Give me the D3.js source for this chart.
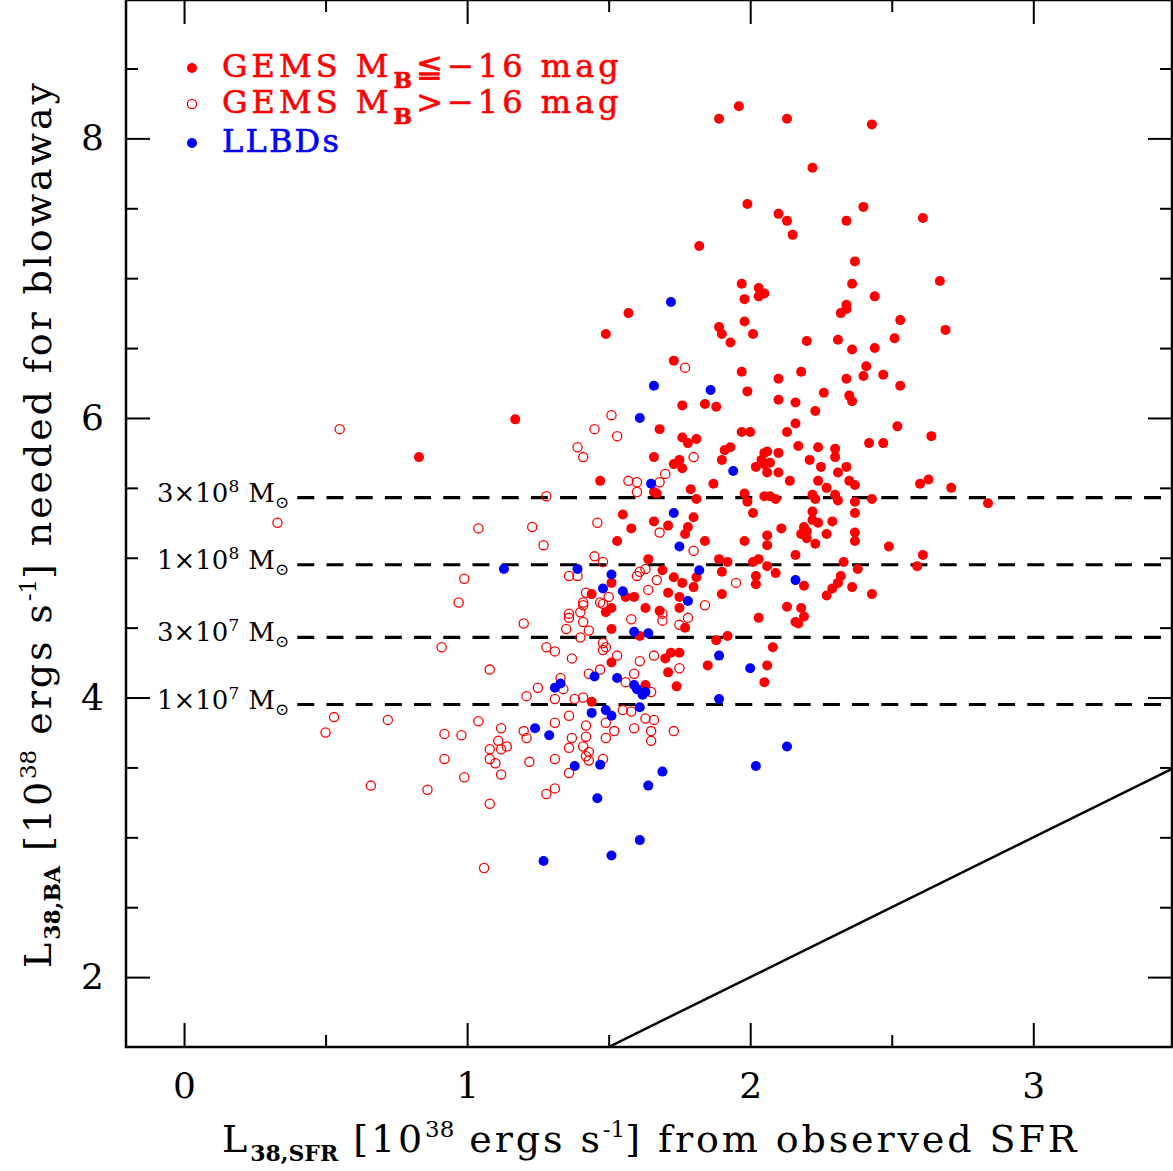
<!DOCTYPE html>
<html>
<head>
<meta charset="utf-8">
<script src="https://cdn.jsdelivr.net/npm/d3@7"></script>
<style>
  body { margin: 0; background: #fff; }
  svg { display: block; }
  text { font-family: "DejaVu Serif", serif; }
</style>
</head>
<body>
<svg id="chart" width="1173" height="1171"></svg>
<script>
// GEMS galaxies with M_B <= -16 mag (filled red)
const gemsBright = [
  [1.89,8.14],[1.96,8.23],[2.13,8.14],[2.43,8.10],[2.22,7.79],[1.99,7.53],[2.10,7.46],[2.13,7.41],
  [2.15,7.31],[2.40,7.51],[2.34,7.41],[2.61,7.43],[1.82,7.23],[2.37,7.12],[1.97,6.96],[2.03,6.93],
  [2.05,6.89],[2.03,6.87],[1.98,6.85],[2.36,6.96],[2.67,6.98],[2.44,6.87],[2.34,6.81],[2.34,6.78],
  [2.32,6.75],[2.53,6.70],[2.69,6.63],[1.57,6.75],[1.49,6.60],[1.89,6.65],[1.90,6.60],[1.98,6.69],
  [2.01,6.60],[1.93,6.54],[2.20,6.55],[2.31,6.56],[2.36,6.49],[2.44,6.50],[2.51,6.57],[1.73,6.41],
  [1.97,6.33],[2.10,6.28],[1.99,6.19],[2.10,6.13],[1.76,6.09],[1.84,6.10],[1.88,6.08],[1.68,5.92],
  [1.97,5.90],[2.00,5.90],[2.13,5.90],[1.76,5.86],[1.81,5.85],[1.78,5.82],[1.93,5.79],[1.91,5.77],
  [1.66,5.72],[1.75,5.70],[1.73,5.67],[1.90,5.70],[2.05,5.75],[2.06,5.76],[2.04,5.70],[2.07,5.68],
  [2.05,5.67],[2.02,5.65],[2.10,5.75],[1.76,5.64],[2.06,5.61],[2.10,5.61],[1.47,5.55],[1.66,5.47],
  [1.67,5.46],[1.87,5.53],[1.79,5.49],[1.81,5.42],[1.98,5.46],[1.99,5.40],[2.01,5.32],[2.05,5.44],
  [2.07,5.44],[2.09,5.42],[2.14,5.55],[1.55,5.31],[1.58,5.21],[1.66,5.26],[1.71,5.23],[1.80,5.29],
  [1.78,5.22],[1.77,5.17],[2.11,5.21],[2.06,5.16],[2.06,5.09],[1.53,5.12],[1.84,5.12],[1.98,5.12],
  [2.41,6.37],[2.40,6.30],[2.47,6.31],[2.18,6.33],[2.34,6.28],[2.53,6.23],[2.26,6.18],[2.35,6.16],
  [2.36,6.12],[2.16,6.11],[2.23,6.05],[2.16,5.96],[2.52,5.94],[2.64,5.87],[2.42,5.82],[2.47,5.82],
  [2.17,5.80],[2.24,5.79],[2.30,5.78],[2.30,5.72],[2.21,5.70],[2.25,5.65],[2.34,5.65],[2.31,5.61],
  [2.24,5.55],[2.27,5.50],[2.35,5.55],[2.37,5.52],[2.60,5.53],[2.63,5.56],[2.71,5.50],[2.22,5.45],
  [2.23,5.42],[2.30,5.45],[2.31,5.41],[2.43,5.42],[2.37,5.40],[2.37,5.32],[2.84,5.39],[2.22,5.33],
  [2.22,5.27],[2.24,5.25],[2.29,5.26],[2.19,5.22],[2.20,5.19],[2.18,5.17],[2.20,5.14],[2.27,5.17],
  [2.37,5.18],[2.37,5.12],[2.23,5.10],[2.49,5.08],[0.83,5.72],[1.17,5.99],
  [1.64,4.99],[1.89,4.99],[1.69,4.91],[1.73,4.86],[1.76,4.82],[1.80,4.79],[1.81,4.86],[1.90,4.90],
  [1.90,4.74],[1.51,4.82],[1.44,4.74],[1.56,4.72],[1.59,4.72],[1.71,4.75],[1.75,4.72],[1.75,4.64],
  [1.63,4.64],[1.51,4.64],[1.49,4.61],[1.68,4.62],[1.77,4.50],[1.51,4.49],[1.61,4.44],[1.88,4.41],
  [1.92,4.44],[1.72,4.32],[1.70,4.28],[1.75,4.32],[1.51,4.25],[1.85,4.23],[1.71,4.18],[1.63,4.09],
  [1.74,4.08],[1.44,3.97],
  [1.92,4.97],[2.01,4.97],[2.03,4.99],[2.06,4.94],[2.16,5.02],[2.33,4.97],[2.38,4.92],[2.02,4.87],
  [2.02,4.81],[2.09,4.89],[2.19,4.80],[2.32,4.87],[2.31,4.82],[2.29,4.78],[2.27,4.73],[2.36,4.79],
  [2.43,4.74],[2.13,4.65],[2.18,4.64],[2.19,4.58],[2.16,4.54],[2.17,4.53],[2.03,4.57],[2.59,4.94],
  [2.61,5.02],[2.08,4.36],[2.06,4.23],[2.05,4.11]
];

// GEMS galaxies with M_B > -16 mag (open red)
const gemsFaint = [
  [0.33,5.25],[0.55,5.92],[1.45,5.92],[1.39,5.79],[1.41,5.72],[1.28,5.44],[1.04,5.21],[1.23,5.22],
  [1.27,5.09],[1.46,5.25],[1.77,6.36],[1.51,6.02],[1.53,5.87],[1.80,5.72],[1.70,5.60],[1.57,5.55],
  [1.60,5.54],[1.60,5.47],[1.68,5.54],[1.68,5.18],[1.80,5.05],[0.99,4.85],[0.97,4.68],[1.20,4.53],
  [0.91,4.36],[1.28,4.36],[1.31,4.33],[1.08,4.20],[1.25,4.07],[1.21,4.01],[1.31,3.99],[0.53,3.86],
  [0.72,3.84],[1.04,3.83],
  [1.45,5.01],[1.48,4.97],[1.36,4.87],[1.39,4.87],[1.61,4.90],[1.60,4.87],[1.63,4.92],[1.67,4.84],
  [1.50,4.72],[1.42,4.75],[1.64,4.77],[1.41,4.68],[1.41,4.66],[1.47,4.68],[1.48,4.67],[1.40,4.61],
  [1.36,4.60],[1.36,4.57],[1.41,4.54],[1.43,4.48],[1.35,4.49],[1.40,4.43],[1.58,4.56],[1.69,4.60],
  [1.69,4.55],[1.78,4.57],[1.75,4.52],[1.84,4.66],[1.48,4.39],[1.49,4.36],[1.48,4.34],[1.37,4.28],
  [1.53,4.30],[1.61,4.26],[1.66,4.30],[1.75,4.21],[1.47,4.20],[1.43,4.17],[1.59,4.17],[1.56,4.11],
  [1.33,4.14],[1.34,4.06],[1.65,4.04],[1.38,3.99],[1.41,4.00],[1.36,3.87],[1.55,3.91],[1.58,3.90],
  [1.95,4.82],
  [0.50,3.75],[0.92,3.74],[0.98,3.73],[1.12,3.78],[1.20,3.76],[1.21,3.71],[1.11,3.69],[1.08,3.63],
  [1.12,3.63],[1.14,3.65],[1.08,3.56],[1.10,3.53],[0.92,3.56],[1.22,3.54],[0.99,3.43],[1.12,3.45],
  [0.66,3.37],[0.86,3.34],[1.08,3.24],[1.06,2.78],[1.28,3.31],[1.31,3.35],[1.31,3.56],[1.36,3.46],
  [1.36,3.64],[1.37,3.71],[1.41,3.65],[1.43,3.61],[1.42,3.58],[1.43,3.55],[1.42,3.72],[1.42,3.80],
  [1.31,3.82],[1.49,3.71],[1.49,3.82],[1.52,3.76],[1.48,3.56],[1.59,3.78],[1.63,3.85],[1.66,3.84],
  [1.65,3.76],[1.65,3.69],[1.73,3.76]
];

// LLBDs (filled blue)
const llbds = [
  [1.72,6.83],[1.66,6.23],[1.86,6.20],[1.61,6.00],[1.94,5.62],[1.65,5.53],[1.73,5.32],[1.75,5.08],
  [1.13,4.92],[1.39,4.92],[1.51,4.88],[1.48,4.78],[1.55,4.76],[1.78,4.69],[1.82,4.91],[2.16,4.84],
  [1.59,4.47],[1.64,4.46],[1.89,4.30],[2.00,4.21],[1.33,4.10],[1.31,4.07],[1.45,4.15],[1.53,4.14],
  [1.59,4.09],[1.60,4.06],[1.62,4.02],[1.63,4.04],[1.89,3.99],[1.44,3.89],[1.49,3.91],[1.51,3.87],
  [1.61,3.93],[1.24,3.78],[1.29,3.73],[1.38,3.51],[1.47,3.52],[1.69,3.47],[1.64,3.37],[1.46,3.28],
  [2.02,3.51],[2.13,3.65],[1.61,2.98],[1.51,2.87],[1.27,2.83]
];

// gas-mass levels (dashed lines)
const massLevels = [5.43, 4.95, 4.43, 3.95];
const massMantissa = ["3", "1", "3", "1"];
const massExponent = ["8", "8", "7", "7"];
const massLineStart = 0.4;

const xMajor = [0, 1, 2, 3];
const xMinor = [0.5, 1.5, 2.5];
const yMajor = [2, 4, 6, 8];
const yMinor = [2.5, 3, 3.5, 4.5, 5, 5.5, 6.5, 7, 7.5, 8.5];

const svg = d3.select("#chart");
const plotLeft = 126, plotRight = 1172, plotTop = 0, plotBottom = 1047;

const x = d3.scaleLinear().domain([-0.205, 3.49]).range([plotLeft, plotRight]);
const y = d3.scaleLinear().domain([1.5, 8.99]).range([plotBottom, plotTop]);

svg.append("defs").append("clipPath").attr("id", "plot")
  .append("rect").attr("x", plotLeft).attr("y", plotTop)
  .attr("width", plotRight - plotLeft).attr("height", plotBottom - plotTop);

// axes: major + minor ticks on all four sides, pointing inward
function styleAxis(g) {
  g.select(".domain").remove();
  g.selectAll(".tick line").attr("stroke", "#000").attr("stroke-width", 2);
  g.selectAll(".tick text")
    .attr("font-size", 36)
    .attr("fill", "#000");
}

svg.append("g").attr("transform", `translate(0,${plotBottom})`)
  .call(d3.axisBottom(x).tickValues(xMajor).tickSizeInner(-24).tickSizeOuter(0)
    .tickPadding(25).tickFormat(d3.format("d")))
  .call(styleAxis);
svg.append("g").attr("transform", `translate(0,${plotBottom})`)
  .call(d3.axisBottom(x).tickValues(xMinor).tickSizeInner(-12).tickSizeOuter(0).tickFormat(""))
  .call(styleAxis);
svg.append("g").attr("transform", `translate(0,${plotTop})`)
  .call(d3.axisTop(x).tickValues(xMajor).tickSizeInner(-24).tickSizeOuter(0).tickFormat(""))
  .call(styleAxis);
svg.append("g").attr("transform", `translate(0,${plotTop})`)
  .call(d3.axisTop(x).tickValues(xMinor).tickSizeInner(-12).tickSizeOuter(0).tickFormat(""))
  .call(styleAxis);

svg.append("g").attr("transform", `translate(${plotLeft},0)`)
  .call(d3.axisLeft(y).tickValues(yMajor).tickSizeInner(-24).tickSizeOuter(0)
    .tickPadding(22).tickFormat(d3.format("d")))
  .call(styleAxis);
svg.append("g").attr("transform", `translate(${plotLeft},0)`)
  .call(d3.axisLeft(y).tickValues(yMinor).tickSizeInner(-12).tickSizeOuter(0).tickFormat(""))
  .call(styleAxis);
svg.append("g").attr("transform", `translate(${plotRight},0)`)
  .call(d3.axisRight(y).tickValues(yMajor).tickSizeInner(-24).tickSizeOuter(0).tickFormat(""))
  .call(styleAxis);
svg.append("g").attr("transform", `translate(${plotRight},0)`)
  .call(d3.axisRight(y).tickValues(yMinor).tickSizeInner(-12).tickSizeOuter(0).tickFormat(""))
  .call(styleAxis);

// frame
svg.append("rect")
  .attr("x", plotLeft).attr("y", plotTop)
  .attr("width", plotRight - plotLeft).attr("height", plotBottom - plotTop)
  .attr("fill", "none").attr("stroke", "#000").attr("stroke-width", 2.5);

// dashed mass lines + labels
svg.append("g").selectAll("line").data(massLevels).join("line")
  .attr("x1", x(massLineStart)).attr("x2", plotRight)
  .attr("y1", d => y(d)).attr("y2", d => y(d))
  .attr("stroke", "#000").attr("stroke-width", 3.2)
  .attr("stroke-dasharray", "17,12.2");

const massLabels = svg.append("g").selectAll("text").data(massLevels).join("text")
  .attr("x", 157).attr("y", d => y(d) + 4)
  .attr("font-size", 26).attr("fill", "#000");
massLabels.append("tspan").text((d, i) => massMantissa[i] + "×10");
massLabels.append("tspan").attr("dy", -10).attr("font-size", 17)
  .text((d, i) => massExponent[i]);
massLabels.append("tspan").attr("dx", 9).attr("dy", 10).text("M");
massLabels.append("tspan").attr("dy", 6).attr("font-size", 17).text("⊙");

// y = x line
svg.append("line")
  .attr("clip-path", "url(#plot)")
  .attr("x1", x(1.5)).attr("y1", y(1.5))
  .attr("x2", x(3.49)).attr("y2", y(3.49))
  .attr("stroke", "#000").attr("stroke-width", 2.5);

// points
const pts = svg.append("g").attr("clip-path", "url(#plot)");
pts.selectAll("circle.faint").data(gemsFaint).join("circle")
  .attr("class", "faint")
  .attr("cx", d => x(d[0])).attr("cy", d => y(d[1])).attr("r", 4.6)
  .attr("fill", "none").attr("stroke", "#ff0000").attr("stroke-width", 1.3);
pts.selectAll("circle.bright").data(gemsBright).join("circle")
  .attr("class", "bright")
  .attr("cx", d => x(d[0])).attr("cy", d => y(d[1])).attr("r", 5)
  .attr("fill", "#ff0000");
pts.selectAll("circle.llbd").data(llbds).join("circle")
  .attr("class", "llbd")
  .attr("cx", d => x(d[0])).attr("cy", d => y(d[1])).attr("r", 5)
  .attr("fill", "#0000ff");

// legend
const lg = svg.append("g");
lg.append("circle").attr("cx", 192).attr("cy", 68).attr("r", 5).attr("fill", "#ff0000");
lg.append("circle").attr("cx", 192).attr("cy", 104).attr("r", 4.6)
  .attr("fill", "none").attr("stroke", "#ff0000").attr("stroke-width", 1.3);
lg.append("circle").attr("cx", 192).attr("cy", 143).attr("r", 5).attr("fill", "#0000ff");

function legendText(yb, color, rel) {
  const t = lg.append("text").attr("x", 222).attr("y", yb)
    .attr("font-size", 32)
    .attr("letter-spacing", 4.0)
    .attr("fill", color).attr("stroke", color).attr("stroke-width", 0.6);
  if (rel) {
    t.append("tspan").text("GEMS M");
    t.append("tspan").attr("dx", 1).attr("dy", 11).attr("font-size", 22)
      .attr("letter-spacing", 1).attr("font-weight", "bold").text("B");
    t.append("tspan").attr("dx", 3).attr("dy", -11).text(rel + "−16 mag");
  } else {
    t.attr("letter-spacing", 2.2).text("LLBDs");
  }
}
legendText(77, "#ff0000", "≦");
legendText(113, "#ff0000", ">");
legendText(152, "#0000ff", null);

// axis titles
const xt = svg.append("text").attr("x", 222).attr("y", 1152)
  .attr("font-size", 38).attr("letter-spacing", 2.9).attr("fill", "#000");
xt.append("tspan").text("L");
xt.append("tspan").attr("dy", 9).attr("font-size", 22).attr("letter-spacing", 0).attr("font-weight", "bold").text("38,SFR");
xt.append("tspan").attr("dy", -9).text(" [10");
xt.append("tspan").attr("dy", -15).attr("font-size", 23).attr("letter-spacing", 0).text("38");
xt.append("tspan").attr("dy", 15).text(" ergs s");
xt.append("tspan").attr("dy", -15).attr("font-size", 23).attr("letter-spacing", 0).text("-1");
xt.append("tspan").attr("dy", 15).text("] from observed SFR");

const yt = svg.append("text")
  .attr("transform", "translate(51,524) rotate(-90)")
  .attr("text-anchor", "middle")
  .attr("font-size", 38).attr("letter-spacing", 2.9).attr("fill", "#000");
yt.append("tspan").text("L");
yt.append("tspan").attr("dy", 9).attr("font-size", 22).attr("letter-spacing", 0).attr("font-weight", "bold").text("38,BA");
yt.append("tspan").attr("dy", -9).text(" [10");
yt.append("tspan").attr("dy", -15).attr("font-size", 23).attr("letter-spacing", 0).text("38");
yt.append("tspan").attr("dy", 15).text(" ergs s");
yt.append("tspan").attr("dy", -15).attr("font-size", 23).attr("letter-spacing", 0).text("-1");
yt.append("tspan").attr("dy", 15).text("] needed for blowaway");
</script>
</body>
</html>
